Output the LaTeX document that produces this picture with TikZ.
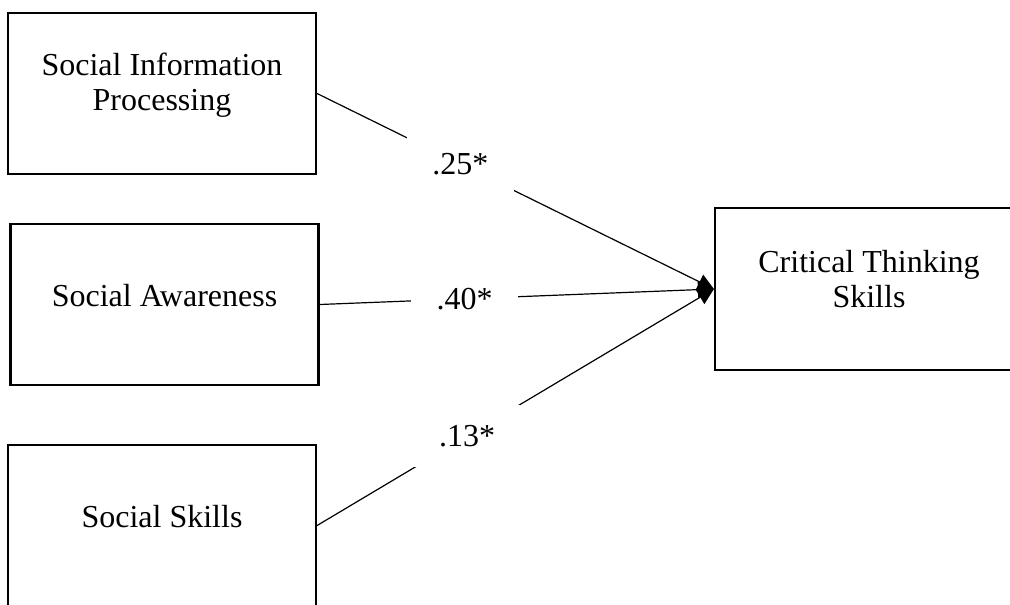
\documentclass[tikz,border=0pt]{standalone}
\usepackage{fontspec}
\setmainfont{Liberation Serif}
\usetikzlibrary{arrows.meta}

\tikzset{
  box/.style={draw, line width=1.6pt, rectangle, minimum width=231pt, minimum height=120.75pt, inner sep=0pt},
  boxtext/.style={align=center, inner sep=0pt, font=\fontsize{24}{26.25}\selectfont},
  coef/.style={fill=white, minimum width=80pt, minimum height=46pt, inner sep=0pt, font=\fontsize{24}{26.25}\selectfont},
  link/.style={line width=0.9pt, -{Triangle[length=12pt,width=12pt]}}
}

\begin{document}
\begin{tikzpicture}[x=0.75pt,y=-0.75pt]
    \useasboundingbox (0,0) rectangle (1010,604);
    % predictors
    \node[box] (SIP) at (162,93.5) {};
    \node[box] (SA) at (164.5,304.5) {};
    \node[box] (SS) at (162,525.5) {};
    % outcome
    \node[box, minimum height=121.5pt] (CTS) at (869,289) {};
    \node[boxtext] (SIPt) at ([yshift=6.5pt]SIP.center) {Social Information\\Processing};
    \node[boxtext] (SAt) at ([yshift=6.75pt]SA.center) {Social Awareness};
    \node[boxtext] (SSt) at ([yshift=6.75pt]SS.center) {Social Skills};
    \node[boxtext] (CTSt) at ([yshift=7.5pt]CTS.center) {Critical Thinking\\Skills};
    % paths
    \draw[link] (SIP.east) to node[coef, pos=0.361] (b1) {.25*} (CTS.west);
    \draw[link] (SA.east) to node[coef, pos=0.368] (b2) {.40*} (CTS.west);
    \draw[link] (SS.east) to node[coef, pos=0.378] (b3) {.13*} (CTS.west);
\end{tikzpicture}
\end{document}
